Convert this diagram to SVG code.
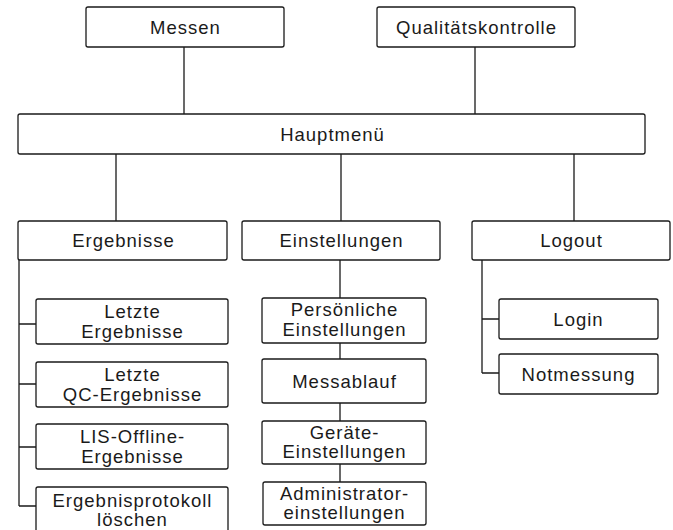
<svg xmlns="http://www.w3.org/2000/svg" width="673" height="530" viewBox="0 0 673 530">
<style>
.b{fill:#fff;stroke:#1a1a1a;stroke-width:1.3}
.t{font-family:"Liberation Sans",Arial,sans-serif;font-size:18.5px;letter-spacing:1px;fill:#1a1a1a;text-anchor:middle}
.c{fill:none;stroke:#1a1a1a;stroke-width:1.3}
</style>
<rect width="673" height="530" fill="#fff"/>
<g id="connectors" class="c">
<path d="M184 47V114M475 47V114"/>
<path d="M116 154V221M341 154V221M574 154V221"/>
<path d="M19 260V506M19 324H36M19 384H36M19 447H36M19 506H36"/>
<path d="M340 260V298M340 343V359M340 403V421M340 464V482"/>
<path d="M482 260V373M482 319H499M482 373H499"/>
</g>
<g id="messen"><rect class="b" x="86" y="7" width="198" height="40" rx="2"/><text class="t" x="185.5" y="33.5">Messen</text></g>
<g id="qualitaet"><rect class="b" x="377" y="7" width="198" height="40" rx="2"/><text class="t" x="476.5" y="33.5">Qualitätskontrolle</text></g>
<g id="hauptmenue"><rect class="b" x="18" y="114" width="627" height="40" rx="2"/><text class="t" x="332.5" y="140.5">Hauptmenü</text></g>
<g id="ergebnisse"><rect class="b" x="18" y="221" width="209" height="39" rx="2"/><text class="t" x="123.5" y="247">Ergebnisse</text></g>
<g id="einstellungen"><rect class="b" x="242" y="221" width="198" height="39" rx="2"/><text class="t" x="341.5" y="247">Einstellungen</text></g>
<g id="logout"><rect class="b" x="472" y="221" width="198" height="39" rx="2"/><text class="t" x="571.5" y="247">Logout</text></g>
<g id="letzte-ergebnisse"><rect class="b" x="36" y="299" width="192" height="45" rx="2"/><text class="t" x="132.5" y="318">Letzte</text><text class="t" x="132.5" y="337.5">Ergebnisse</text></g>
<g id="letzte-qc"><rect class="b" x="36" y="362" width="192" height="45" rx="2"/><text class="t" x="132.5" y="381">Letzte</text><text class="t" x="132.5" y="400.5">QC-Ergebnisse</text></g>
<g id="lis-offline"><rect class="b" x="36" y="424" width="192" height="45" rx="2"/><text class="t" x="132.5" y="443">LIS-Offline-</text><text class="t" x="132.5" y="462.5">Ergebnisse</text></g>
<g id="protokoll"><rect class="b" x="36" y="487" width="192" height="45" rx="2"/><text class="t" x="132.5" y="506.5">Ergebnisprotokoll</text><text class="t" x="132.5" y="526">löschen</text></g>
<g id="persoenlich"><rect class="b" x="262" y="298" width="164" height="45" rx="2"/><text class="t" x="344.5" y="316">Persönliche</text><text class="t" x="344.5" y="335.5">Einstellungen</text></g>
<g id="messablauf"><rect class="b" x="262" y="359" width="164" height="44" rx="2"/><text class="t" x="344.5" y="387.5">Messablauf</text></g>
<g id="geraete"><rect class="b" x="262" y="421" width="164" height="43" rx="2"/><text class="t" x="344.5" y="438.5">Geräte-</text><text class="t" x="344.5" y="458">Einstellungen</text></g>
<g id="administrator"><rect class="b" x="263" y="482" width="163" height="43" rx="2"/><text class="t" x="344.5" y="499.5">Administrator-</text><text class="t" x="344.5" y="519">einstellungen</text></g>
<g id="login"><rect class="b" x="499" y="299" width="159" height="40" rx="2"/><text class="t" x="578.5" y="325.5">Login</text></g>
<g id="notmessung"><rect class="b" x="499" y="354" width="159" height="40" rx="2"/><text class="t" x="578.5" y="380.5">Notmessung</text></g>
</svg>
